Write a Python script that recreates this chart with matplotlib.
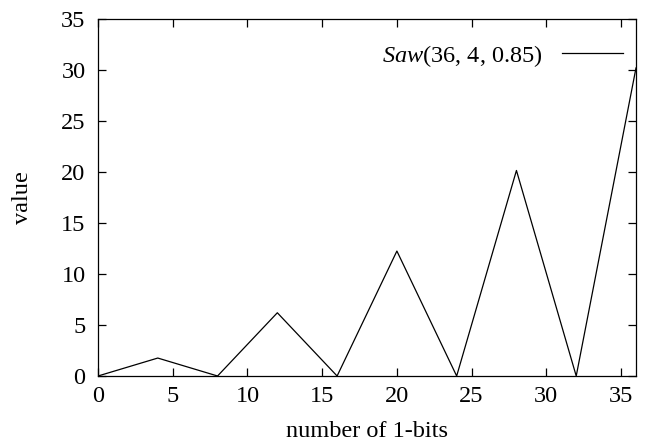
import matplotlib
matplotlib.use("Agg")
import matplotlib.pyplot as plt

plt.rcParams['font.family'] = ['Liberation Serif', 'DejaVu Serif']
plt.rcParams['mathtext.fontset'] = 'custom'
plt.rcParams['mathtext.rm'] = 'Liberation Serif'
plt.rcParams['mathtext.it'] = 'Liberation Serif:italic'

# values
bits = [0, 4, 8, 12, 16, 20, 24, 28, 32, 36]
values = [0, 1.76, 0, 6.2, 0, 12.25, 0, 20.15, 0, 30.2]
label = r'$\mathit{Saw}$(36, 4, 0.85)'

fs = 17.5

fig = plt.figure(figsize=(6.49, 4.44), dpi=100)
ax = fig.add_axes([98/649, 1 - 376/444, (636 - 98)/649, (376 - 19)/444])

ax.plot(bits, values, color='black', linewidth=0.9, label=label)

ax.set_xlim(0, 36)
ax.set_ylim(0, 35)
ax.set_xticks(range(0, 36, 5))
ax.set_yticks(range(0, 36, 5))
ax.tick_params(direction='in', top=True, right=True, length=6, width=0.9,
               labelsize=fs)
ax.tick_params(axis='x', pad=7)
ax.tick_params(axis='y', pad=9)
for s in ax.spines.values():
    s.set_linewidth(0.9)

ax.set_xlabel('number of 1-bits', fontsize=fs, labelpad=10)
ax.set_ylabel('value', fontsize=fs, labelpad=20)

leg = ax.legend(loc='upper right', frameon=False, markerfirst=False,
                fontsize=fs, handlelength=2.5, handletextpad=0.8,
                borderaxespad=0.0, borderpad=0.0, bbox_to_anchor=(0.976, 0.933))

fig.savefig('out.png', dpi=100)
